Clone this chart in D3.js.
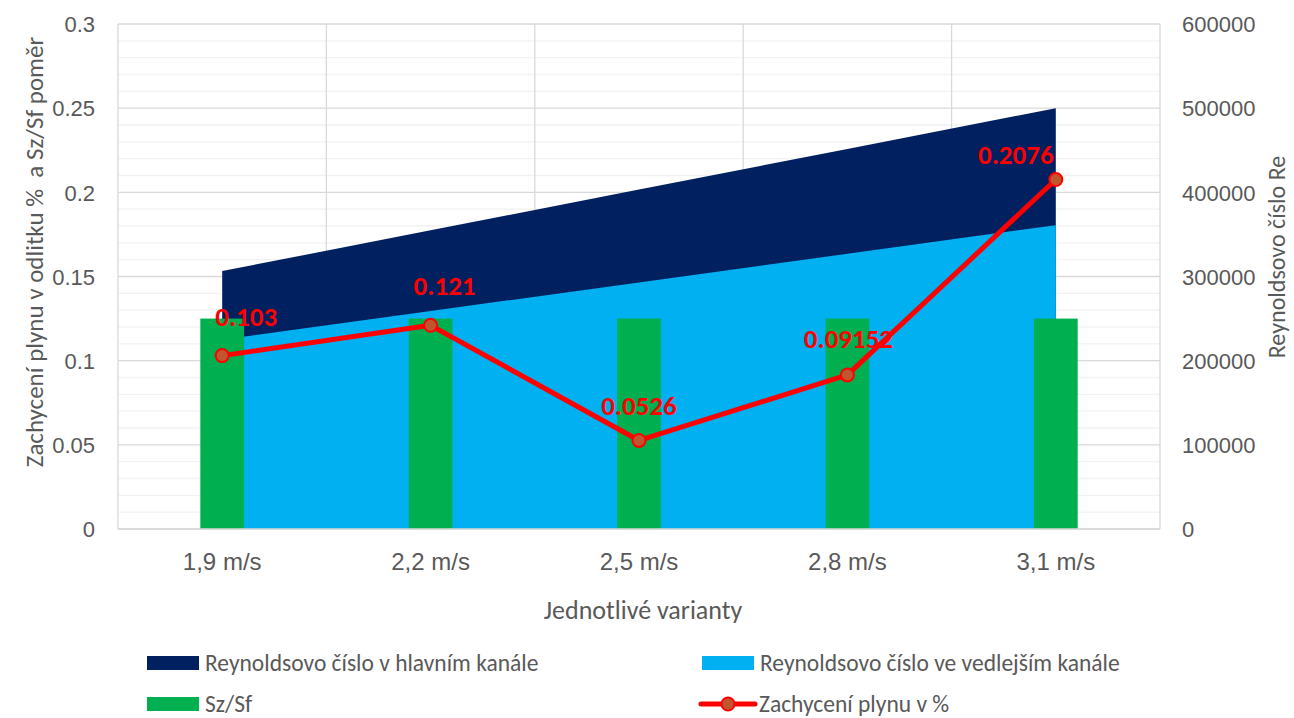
<!DOCTYPE html>
<html>
<head>
<meta charset="utf-8">
<script src="https://cdn.jsdelivr.net/npm/d3@7"></script>
<style>
  html, body { margin: 0; padding: 0; background: #fff; }
  svg { display: block; font-family: Carlito, Calibri, Lato, "Open Sans", sans-serif; }
</style>
</head>
<body>
<svg id="chart" width="1294" height="718"></svg>
<script>
// Categories (flow velocity variants)
const categories = ["1,9 m/s", "2,2 m/s", "2,5 m/s", "2,8 m/s", "3,1 m/s"];
// Reynolds number in main channel (right axis)
const reMain = [306450, 354840, 403230, 451610, 500000];
// Reynolds number in side channel (right axis)
const reSide = [225000, 259000, 293000, 327000, 361000];
// Sz/Sf ratio (left axis)
const szsf = [0.125, 0.125, 0.125, 0.125, 0.125];
// Gas entrapment in % (left axis)
const gas = [0.103, 0.121, 0.0526, 0.09152, 0.2076];
const gasLabels = ["0.103", "0.121", "0.0526", "0.09152", "0.2076"];
// Label nudges relative to each point
const labelDx = [24, 14, 0, 1, -40];
const labelDy = [-30, -30, -25, -27, -16];

const leftTicks = [0, 0.05, 0.1, 0.15, 0.2, 0.25, 0.3];
const leftTickText = ["0", "0.05", "0.1", "0.15", "0.2", "0.25", "0.3"];
const rightTicks = [0, 100000, 200000, 300000, 400000, 500000, 600000];

const svg = d3.select("#chart");
const m = { left: 118, right: 1160, top: 24, bottom: 529 };

const x = d3.scaleBand().domain(categories).range([m.left, m.right]).paddingInner(0).paddingOuter(0);
const xc = d => x(d) + x.bandwidth() / 2;
const yL = d3.scaleLinear().domain([0, 0.3]).range([m.bottom, m.top]);
const yR = d3.scaleLinear().domain([0, 600000]).range([m.bottom, m.top]);

const txt = "#595959";

// minor gridlines
const minor = d3.range(0, 0.3001, 0.01).filter(v => Math.round(v * 100) % 5 !== 0);
svg.append("g").selectAll("line").data(minor).join("line")
  .attr("x1", m.left).attr("x2", m.right)
  .attr("y1", d => yL(d)).attr("y2", d => yL(d))
  .attr("stroke", "#f2f2f2").attr("stroke-width", 1.3);

// major gridlines
svg.append("g").selectAll("line").data(leftTicks).join("line")
  .attr("x1", m.left).attr("x2", m.right)
  .attr("y1", d => yL(d)).attr("y2", d => yL(d))
  .attr("stroke", "#d9d9d9").attr("stroke-width", 1.3);

// vertical category separators
const seps = categories.map(c => x(c)).concat([m.right]);
svg.append("g").selectAll("line").data(seps).join("line")
  .attr("x1", d => d).attr("x2", d => d)
  .attr("y1", m.top).attr("y2", m.bottom)
  .attr("stroke", "#d9d9d9").attr("stroke-width", 1.3);

// areas
const areaGen = d3.area().x((d, i) => xc(categories[i])).y0(yR(0)).y1(d => yR(d));
svg.append("path").datum(reMain).attr("d", areaGen).attr("fill", "#002060");
svg.append("path").datum(reSide).attr("d", areaGen).attr("fill", "#00B0F0");

// bars
const bw = x.bandwidth() * 0.21;
svg.append("g").selectAll("rect").data(szsf).join("rect")
  .attr("x", (d, i) => xc(categories[i]) - bw / 2)
  .attr("width", bw)
  .attr("y", d => yL(d))
  .attr("height", d => yL(0) - yL(d))
  .attr("fill", "#00B050");

// bottom axis line
svg.append("line").attr("x1", m.left).attr("x2", m.right)
  .attr("y1", m.bottom).attr("y2", m.bottom)
  .attr("stroke", "#d9d9d9").attr("stroke-width", 1.5);

// line
const line = d3.line().x((d, i) => xc(categories[i])).y(d => yL(d));
svg.append("path").datum(gas).attr("d", line)
  .attr("fill", "none").attr("stroke", "#FF0000").attr("stroke-width", 5)
  .attr("stroke-linejoin", "round");
svg.append("g").selectAll("circle").data(gas).join("circle")
  .attr("cx", (d, i) => xc(categories[i])).attr("cy", d => yL(d))
  .attr("r", 6.5).attr("fill", "#C0562F").attr("stroke", "#FF0000").attr("stroke-width", 2);

// data labels
svg.append("g").selectAll("text").data(gas).join("text")
  .attr("x", (d, i) => xc(categories[i]) + labelDx[i])
  .attr("y", (d, i) => yL(d) + labelDy[i])
  .attr("text-anchor", "middle")
  .attr("fill", "#FF0000").attr("font-weight", "bold").attr("font-size", 27)
  .text((d, i) => gasLabels[i]);

// left axis
const axL = d3.axisLeft(yL).tickValues(leftTicks).tickFormat((d, i) => leftTickText[i]).tickSize(0).tickPadding(23);
const gL = svg.append("g").attr("transform", `translate(${m.left},0)`).call(axL);
gL.select(".domain").remove();
gL.selectAll("text").attr("fill", txt).attr("font-size", 22).attr("font-family", null).attr("dy", "0.35em");

// right axis
const axR = d3.axisRight(yR).tickValues(rightTicks).tickFormat(d3.format("d")).tickSize(0).tickPadding(22);
const gR = svg.append("g").attr("transform", `translate(${m.right},0)`).call(axR);
gR.select(".domain").remove();
gR.selectAll("text").attr("fill", txt).attr("font-size", 22).attr("font-family", null).attr("dy", "0.35em");

// bottom axis
const axB = d3.axisBottom(x).tickSize(0).tickPadding(24);
const gB = svg.append("g").attr("transform", `translate(0,${m.bottom})`).call(axB);
gB.select(".domain").remove();
gB.selectAll("text").attr("fill", txt).attr("font-size", 24).attr("font-family", null);

// axis titles
svg.append("text").attr("transform", "translate(43,252) rotate(-90)")
  .attr("text-anchor", "middle").attr("fill", txt).attr("font-size", 25)
  .attr("xml:space", "preserve")
  .text("Zachycení plynu v odlitku %  a Sz/Sf poměr");
svg.append("text").attr("transform", "translate(1285,257) rotate(-90)")
  .attr("text-anchor", "middle").attr("fill", txt).attr("font-size", 24)
  .text("Reynoldsovo číslo Re");
svg.append("text").attr("x", 643).attr("y", 619)
  .attr("text-anchor", "middle").attr("fill", txt).attr("font-size", 26)
  .text("Jednotlivé varianty");

// legend
const legend = [
  { name: "Reynoldsovo číslo v hlavním kanále", color: "#002060", type: "area", x: 147, y: 663 },
  { name: "Reynoldsovo číslo ve vedlejším kanále", color: "#00B0F0", type: "area", x: 702, y: 663 },
  { name: "Sz/Sf", color: "#00B050", type: "bar", x: 147, y: 704 },
  { name: "Zachycení plynu v %", color: "#FF0000", type: "line", x: 701, y: 704 }
];
const lg = svg.append("g").selectAll("g").data(legend).join("g")
  .attr("transform", d => `translate(${d.x},${d.y})`);
lg.filter(d => d.type !== "line").append("rect")
  .attr("x", 0).attr("y", -7).attr("width", 52).attr("height", 14).attr("fill", d => d.color);
const ll = lg.filter(d => d.type === "line");
ll.append("line").attr("x1", 0).attr("x2", 54).attr("y1", 0).attr("y2", 0)
  .attr("stroke", "#FF0000").attr("stroke-width", 5).attr("stroke-linecap", "round");
ll.append("circle").attr("cx", 27).attr("cy", 0).attr("r", 6.5)
  .attr("fill", "#C0562F").attr("stroke", "#FF0000").attr("stroke-width", 2);
lg.append("text").attr("x", 58).attr("y", 0).attr("dy", "0.33em")
  .attr("fill", txt).attr("font-size", 23.5).text(d => d.name);
</script>
</body>
</html>
